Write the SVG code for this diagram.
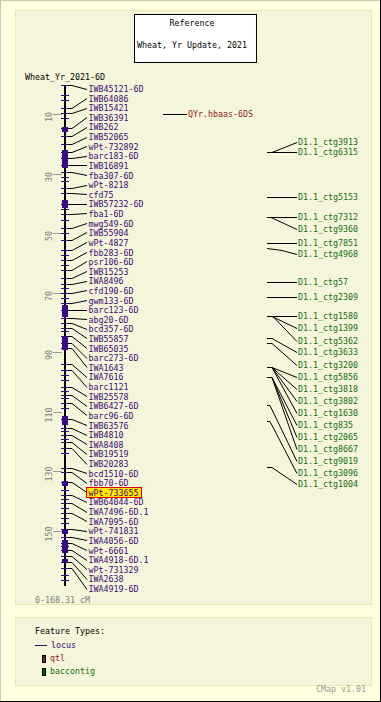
<svg xmlns="http://www.w3.org/2000/svg" width="381" height="702" viewBox="0 0 381 702">
<style>
text{font-family:"DejaVu Sans Mono","Liberation Mono",monospace;font-size:8.3px}
.loc{fill:#3d0a74}
.ctg{fill:#137013}
.qtl{fill:#8b2323}
.gray{fill:#808080}
.tk{stroke:#3a0a86;stroke-width:1;shape-rendering:crispEdges}
.blk{fill:#3a0a86;shape-rendering:crispEdges}
.cn line,.cn polyline{stroke:#000;stroke-width:1;fill:none}
.sc{stroke:#999;stroke-width:1;shape-rendering:crispEdges}
.panel{fill:#f5f5dc;stroke:#eee8aa;stroke-width:1}
</style>
<rect x="0" y="0" width="381" height="702" fill="#ffffe0"/>
<line x1="0" y1="0.5" x2="381" y2="0.5" stroke="#c8c8b0"/>
<line x1="0.5" y1="0" x2="0.5" y2="702" stroke="#c8c8b0"/>
<line x1="380.5" y1="0" x2="380.5" y2="702" stroke="#000"/>
<line x1="0" y1="701.5" x2="381" y2="701.5" stroke="#000"/>
<rect class="panel" x="15.5" y="10.5" width="356" height="594"/>
<g id="title">
<rect x="134.5" y="14.5" width="122" height="48" fill="#fff" stroke="#000"/>
<text x="192" y="26" text-anchor="middle" fill="#000">Reference</text>
<text x="192" y="48" text-anchor="middle" fill="#000">Wheat, Yr Update, 2021</text>
</g>
<g id="map">
<text x="25" y="80" fill="#000">Wheat_Yr_2021-6D</text>
<rect x="64" y="85" width="2" height="501" fill="#000"/>
<g id="scale">
<line class="sc" x1="53" y1="114.5" x2="62" y2="114.5"/><text class="gray" transform="translate(52,117) rotate(-90)" text-anchor="middle">10</text>
<line class="sc" x1="53" y1="174.5" x2="62" y2="174.5"/><text class="gray" transform="translate(52,177) rotate(-90)" text-anchor="middle">30</text>
<line class="sc" x1="53" y1="233.5" x2="62" y2="233.5"/><text class="gray" transform="translate(52,236) rotate(-90)" text-anchor="middle">50</text>
<line class="sc" x1="53" y1="293.5" x2="62" y2="293.5"/><text class="gray" transform="translate(52,296) rotate(-90)" text-anchor="middle">70</text>
<line class="sc" x1="53" y1="352.5" x2="62" y2="352.5"/><text class="gray" transform="translate(52,355) rotate(-90)" text-anchor="middle">90</text>
<line class="sc" x1="53" y1="412.5" x2="62" y2="412.5"/><text class="gray" transform="translate(52,415) rotate(-90)" text-anchor="middle">110</text>
<line class="sc" x1="53" y1="471.5" x2="62" y2="471.5"/><text class="gray" transform="translate(52,474) rotate(-90)" text-anchor="middle">130</text>
<line class="sc" x1="53" y1="531.5" x2="62" y2="531.5"/><text class="gray" transform="translate(52,534) rotate(-90)" text-anchor="middle">150</text>
<text class="gray" x="35" y="603">0-168.31 cM</text>
</g>
<g id="blocks">
<rect class="blk" x="62" y="127" width="6" height="5"/>
<rect class="blk" x="62" y="150" width="6" height="18"/>
<rect class="blk" x="62" y="200" width="6" height="8"/>
<rect class="blk" x="62" y="305" width="6" height="12"/>
<rect class="blk" x="62" y="337" width="6" height="13"/>
<rect class="blk" x="62" y="416" width="6" height="9"/>
<rect class="blk" x="62" y="481" width="6" height="5"/>
<rect class="blk" x="62" y="529" width="6" height="5"/>
<rect class="blk" x="62" y="540" width="6" height="13"/>
<rect class="blk" x="62" y="559" width="6" height="3"/>
</g>
<g id="extra-ticks">
<line class="tk" x1="61" y1="95.5" x2="69" y2="95.5"/>
<line class="tk" x1="61" y1="100.5" x2="69" y2="100.5"/>
<line class="tk" x1="61" y1="118.5" x2="69" y2="118.5"/>
<line class="tk" x1="61" y1="177.5" x2="69" y2="177.5"/>
<line class="tk" x1="61" y1="181.5" x2="69" y2="181.5"/>
<line class="tk" x1="61" y1="209.5" x2="69" y2="209.5"/>
<line class="tk" x1="61" y1="220.5" x2="69" y2="220.5"/>
<line class="tk" x1="61" y1="233.5" x2="69" y2="233.5"/>
<line class="tk" x1="61" y1="255.5" x2="69" y2="255.5"/>
<line class="tk" x1="61" y1="265.5" x2="69" y2="265.5"/>
<line class="tk" x1="61" y1="288.5" x2="69" y2="288.5"/>
<line class="tk" x1="61" y1="298.5" x2="69" y2="298.5"/>
<line class="tk" x1="61" y1="331.5" x2="69" y2="331.5"/>
<line class="tk" x1="61" y1="375.5" x2="69" y2="375.5"/>
<line class="tk" x1="61" y1="380.5" x2="69" y2="380.5"/>
<line class="tk" x1="61" y1="391.5" x2="69" y2="391.5"/>
<line class="tk" x1="61" y1="398.5" x2="69" y2="398.5"/>
<line class="tk" x1="61" y1="408.5" x2="69" y2="408.5"/>
<line class="tk" x1="61" y1="431.5" x2="69" y2="431.5"/>
<line class="tk" x1="61" y1="439.5" x2="69" y2="439.5"/>
<line class="tk" x1="61" y1="453.5" x2="69" y2="453.5"/>
<line class="tk" x1="61" y1="490.5" x2="69" y2="490.5"/>
<line class="tk" x1="61" y1="499.5" x2="69" y2="499.5"/>
<line class="tk" x1="61" y1="508.5" x2="69" y2="508.5"/>
<line class="tk" x1="61" y1="518.5" x2="69" y2="518.5"/>
<line class="tk" x1="61" y1="523.5" x2="69" y2="523.5"/>
<line class="tk" x1="61" y1="546.5" x2="69" y2="546.5"/>
<line class="tk" x1="61" y1="575.5" x2="69" y2="575.5"/>
<line class="tk" x1="61" y1="580.5" x2="69" y2="580.5"/>
</g>
</g>
<g id="m1"><line class="tk" x1="61" y1="85.5" x2="69" y2="85.5"/><text class="loc" x="88.5" y="92">IWB45121-6D</text></g>
<g id="m2"><line class="tk" x1="61" y1="108.5" x2="69" y2="108.5"/><text class="loc" x="88.5" y="102">IWB64086</text></g>
<g id="m3"><line class="tk" x1="61" y1="113.5" x2="69" y2="113.5"/><text class="loc" x="88.5" y="111">IWB15421</text></g>
<g id="m4"><line class="tk" x1="61" y1="128.5" x2="69" y2="128.5"/><text class="loc" x="88.5" y="121">IWB36391</text></g>
<g id="m5"><line class="tk" x1="61" y1="136.5" x2="69" y2="136.5"/><text class="loc" x="88.5" y="130">IWB262</text></g>
<g id="m6"><line class="tk" x1="61" y1="144.5" x2="69" y2="144.5"/><text class="loc" x="88.5" y="140">IWB52065</text></g>
<g id="m7"><line class="tk" x1="61" y1="152.5" x2="69" y2="152.5"/><text class="loc" x="88.5" y="150">wPt-732892</text></g>
<g id="m8"><line class="tk" x1="61" y1="158.5" x2="69" y2="158.5"/><text class="loc" x="88.5" y="159">barc183-6D</text></g>
<g id="m9"><line class="tk" x1="61" y1="165.5" x2="69" y2="165.5"/><text class="loc" x="88.5" y="169">IWB16891</text></g>
<g id="m10"><line class="tk" x1="61" y1="172.5" x2="69" y2="172.5"/><text class="loc" x="88.5" y="179">fba307-6D</text></g>
<g id="m11"><line class="tk" x1="61" y1="188.5" x2="69" y2="188.5"/><text class="loc" x="88.5" y="188">wPt-8218</text></g>
<g id="m12"><line class="tk" x1="61" y1="193.5" x2="69" y2="193.5"/><text class="loc" x="88.5" y="198">cfd75</text></g>
<g id="m13"><line class="tk" x1="61" y1="204.5" x2="69" y2="204.5"/><text class="loc" x="88.5" y="207">IWB57232-6D</text></g>
<g id="m14"><line class="tk" x1="61" y1="214.5" x2="69" y2="214.5"/><text class="loc" x="88.5" y="217">fba1-6D</text></g>
<g id="m15"><line class="tk" x1="61" y1="228.5" x2="69" y2="228.5"/><text class="loc" x="88.5" y="227">mwg549-6D</text></g>
<g id="m16"><line class="tk" x1="61" y1="240.5" x2="69" y2="240.5"/><text class="loc" x="88.5" y="236">IWB55904</text></g>
<g id="m17"><line class="tk" x1="61" y1="250.5" x2="69" y2="250.5"/><text class="loc" x="88.5" y="246">wPt-4827</text></g>
<g id="m18"><line class="tk" x1="61" y1="260.5" x2="69" y2="260.5"/><text class="loc" x="88.5" y="256">fbb283-6D</text></g>
<g id="m19"><line class="tk" x1="61" y1="270.5" x2="69" y2="270.5"/><text class="loc" x="88.5" y="265">psr106-6D</text></g>
<g id="m20"><line class="tk" x1="61" y1="278.5" x2="69" y2="278.5"/><text class="loc" x="88.5" y="275">IWB15253</text></g>
<g id="m21"><line class="tk" x1="61" y1="284.5" x2="69" y2="284.5"/><text class="loc" x="88.5" y="284">IWA8496</text></g>
<g id="m22"><line class="tk" x1="61" y1="293.5" x2="69" y2="293.5"/><text class="loc" x="88.5" y="294">cfd190-6D</text></g>
<g id="m23"><line class="tk" x1="61" y1="303.5" x2="69" y2="303.5"/><text class="loc" x="88.5" y="304">gwm133-6D</text></g>
<g id="m24"><line class="tk" x1="61" y1="310.5" x2="69" y2="310.5"/><text class="loc" x="88.5" y="313">barc123-6D</text></g>
<g id="m25"><line class="tk" x1="61" y1="318.5" x2="69" y2="318.5"/><text class="loc" x="88.5" y="323">abg20-6D</text></g>
<g id="m26"><line class="tk" x1="61" y1="323.5" x2="69" y2="323.5"/><text class="loc" x="88.5" y="332">bcd357-6D</text></g>
<g id="m27"><line class="tk" x1="61" y1="328.5" x2="69" y2="328.5"/><text class="loc" x="88.5" y="342">IWB55857</text></g>
<g id="m28"><line class="tk" x1="61" y1="336.5" x2="69" y2="336.5"/><text class="loc" x="88.5" y="352">IWB65035</text></g>
<g id="m29"><line class="tk" x1="61" y1="343.5" x2="69" y2="343.5"/><text class="loc" x="88.5" y="361">barc273-6D</text></g>
<g id="m30"><line class="tk" x1="61" y1="348.5" x2="69" y2="348.5"/><text class="loc" x="88.5" y="371">IWA1643</text></g>
<g id="m31"><line class="tk" x1="61" y1="364.5" x2="69" y2="364.5"/><text class="loc" x="88.5" y="380">IWA7616</text></g>
<g id="m32"><line class="tk" x1="61" y1="370.5" x2="69" y2="370.5"/><text class="loc" x="88.5" y="390">barc1121</text></g>
<g id="m33"><line class="tk" x1="61" y1="387.5" x2="69" y2="387.5"/><text class="loc" x="88.5" y="400">IWB25578</text></g>
<g id="m34"><line class="tk" x1="61" y1="395.5" x2="69" y2="395.5"/><text class="loc" x="88.5" y="409">IWB6427-6D</text></g>
<g id="m35"><line class="tk" x1="61" y1="403.5" x2="69" y2="403.5"/><text class="loc" x="88.5" y="419">barc96-6D</text></g>
<g id="m36"><line class="tk" x1="61" y1="419.5" x2="69" y2="419.5"/><text class="loc" x="88.5" y="429">IWB63576</text></g>
<g id="m37"><line class="tk" x1="61" y1="428.5" x2="69" y2="428.5"/><text class="loc" x="88.5" y="438">IWB4810</text></g>
<g id="m38"><line class="tk" x1="61" y1="435.5" x2="69" y2="435.5"/><text class="loc" x="88.5" y="448">IWA8408</text></g>
<g id="m39"><line class="tk" x1="61" y1="442.5" x2="69" y2="442.5"/><text class="loc" x="88.5" y="457">IWB19519</text></g>
<g id="m40"><line class="tk" x1="61" y1="448.5" x2="69" y2="448.5"/><text class="loc" x="88.5" y="467">IWB20283</text></g>
<g id="m41"><line class="tk" x1="61" y1="468.5" x2="69" y2="468.5"/><text class="loc" x="88.5" y="477">bcd1510-6D</text></g>
<g id="m42"><line class="tk" x1="61" y1="472.5" x2="69" y2="472.5"/><text class="loc" x="88.5" y="486">fbb70-6D</text></g>
<g id="m43"><line class="tk" x1="61" y1="482.5" x2="69" y2="482.5"/><rect x="86.5" y="487.5" width="55" height="10" fill="#ffe600" stroke="#e00000"/><text class="loc" x="88.5" y="496">wPt-733655</text></g>
<g id="m44"><line class="tk" x1="61" y1="495.5" x2="69" y2="495.5"/><text class="loc" x="88.5" y="505">IWB64044-6D</text></g>
<g id="m45"><line class="tk" x1="61" y1="503.5" x2="69" y2="503.5"/><text class="loc" x="88.5" y="515">IWA7496-6D.1</text></g>
<g id="m46"><line class="tk" x1="61" y1="513.5" x2="69" y2="513.5"/><text class="loc" x="88.5" y="525">IWA7095-6D</text></g>
<g id="m47"><line class="tk" x1="61" y1="529.5" x2="69" y2="529.5"/><text class="loc" x="88.5" y="534">wPt-741831</text></g>
<g id="m48"><line class="tk" x1="61" y1="537.5" x2="69" y2="537.5"/><text class="loc" x="88.5" y="544">IWA4056-6D</text></g>
<g id="m49"><line class="tk" x1="61" y1="543.5" x2="69" y2="543.5"/><text class="loc" x="88.5" y="554">wPt-6661</text></g>
<g id="m50"><line class="tk" x1="61" y1="550.5" x2="69" y2="550.5"/><text class="loc" x="88.5" y="563">IWA4918-6D.1</text></g>
<g id="m51"><line class="tk" x1="61" y1="556.5" x2="69" y2="556.5"/><text class="loc" x="88.5" y="573">wPt-731329</text></g>
<g id="m52"><line class="tk" x1="61" y1="562.5" x2="69" y2="562.5"/><text class="loc" x="88.5" y="582">IWA2638</text></g>
<g id="m53"><line class="tk" x1="61" y1="568.5" x2="69" y2="568.5"/><text class="loc" x="88.5" y="592">IWA4919-6D</text></g>
<g id="qtl1"><text class="qtl" x="188" y="117">QYr.hbaas-6DS</text></g>
<g id="c3913"><text class="ctg" x="298" y="145">D1.1_ctg3913</text></g>
<g id="c6315"><text class="ctg" x="298" y="155">D1.1_ctg6315</text></g>
<g id="c5153"><text class="ctg" x="298" y="200">D1.1_ctg5153</text></g>
<g id="c7312"><text class="ctg" x="298" y="220">D1.1_ctg7312</text></g>
<g id="c9360"><text class="ctg" x="298" y="232">D1.1_ctg9360</text></g>
<g id="c7851"><text class="ctg" x="298" y="246">D1.1_ctg7851</text></g>
<g id="c4968"><text class="ctg" x="298" y="257">D1.1_ctg4968</text></g>
<g id="c57"><text class="ctg" x="298" y="285">D1.1_ctg57</text></g>
<g id="c2309"><text class="ctg" x="298" y="300">D1.1_ctg2309</text></g>
<g id="c1580"><text class="ctg" x="298" y="319">D1.1_ctg1580</text></g>
<g id="c1399"><text class="ctg" x="298" y="331">D1.1_ctg1399</text></g>
<g id="c5362"><text class="ctg" x="298" y="344">D1.1_ctg5362</text></g>
<g id="c3633"><text class="ctg" x="298" y="355">D1.1_ctg3633</text></g>
<g id="c3200"><text class="ctg" x="298" y="368">D1.1_ctg3200</text></g>
<g id="c5856"><text class="ctg" x="298" y="380">D1.1_ctg5856</text></g>
<g id="c3818"><text class="ctg" x="298" y="392">D1.1_ctg3818</text></g>
<g id="c3802"><text class="ctg" x="298" y="404">D1.1_ctg3802</text></g>
<g id="c1630"><text class="ctg" x="298" y="416">D1.1_ctg1630</text></g>
<g id="c835"><text class="ctg" x="298" y="428">D1.1_ctg835</text></g>
<g id="c2065"><text class="ctg" x="298" y="440">D1.1_ctg2065</text></g>
<g id="c8667"><text class="ctg" x="298" y="452">D1.1_ctg8667</text></g>
<g id="c9019"><text class="ctg" x="298" y="464">D1.1_ctg9019</text></g>
<g id="c3096"><text class="ctg" x="298" y="476">D1.1_ctg3096</text></g>
<g id="c1004"><text class="ctg" x="298" y="487">D1.1_ctg1004</text></g>
<g id="connectors" class="cn">
<polyline points="68,85.5 72,85.5 87,89.5"/>
<polyline points="68,108.5 72,108.5 87,98.5"/>
<polyline points="68,113.5 72,113.5 87,108.5"/>
<polyline points="68,128.5 72,128.5 87,117.5"/>
<polyline points="68,136.5 72,136.5 87,127.5"/>
<polyline points="68,144.5 72,144.5 87,137.5"/>
<polyline points="68,152.5 72,152.5 87,146.5"/>
<polyline points="68,158.5 72,158.5 87,156.5"/>
<polyline points="68,165.5 72,165.5 87,165.5"/>
<polyline points="68,172.5 72,172.5 87,175.5"/>
<polyline points="68,188.5 72,188.5 87,185.5"/>
<polyline points="68,193.5 72,193.5 87,194.5"/>
<polyline points="68,204.5 72,204.5 87,204.5"/>
<polyline points="68,214.5 72,214.5 87,213.5"/>
<polyline points="68,228.5 72,228.5 87,223.5"/>
<polyline points="68,240.5 72,240.5 87,232.5"/>
<polyline points="68,250.5 72,250.5 87,242.5"/>
<polyline points="68,260.5 72,260.5 87,252.5"/>
<polyline points="68,270.5 72,270.5 87,261.5"/>
<polyline points="68,278.5 72,278.5 87,271.5"/>
<polyline points="68,284.5 72,284.5 87,281.5"/>
<polyline points="68,293.5 72,293.5 87,290.5"/>
<polyline points="68,303.5 72,303.5 87,300.5"/>
<polyline points="68,310.5 72,310.5 87,310.5"/>
<polyline points="68,318.5 72,318.5 87,319.5"/>
<polyline points="68,323.5 72,323.5 87,329.5"/>
<polyline points="68,328.5 72,328.5 87,338.5"/>
<polyline points="68,336.5 72,336.5 87,348.5"/>
<polyline points="68,343.5 72,343.5 87,358.5"/>
<polyline points="68,348.5 72,348.5 87,367.5"/>
<polyline points="68,364.5 72,364.5 87,377.5"/>
<polyline points="68,370.5 72,370.5 87,387.5"/>
<polyline points="68,387.5 72,387.5 87,396.5"/>
<polyline points="68,395.5 72,395.5 87,406.5"/>
<polyline points="68,403.5 72,403.5 87,415.5"/>
<polyline points="68,419.5 72,419.5 87,425.5"/>
<polyline points="68,428.5 72,428.5 87,435.5"/>
<polyline points="68,435.5 72,435.5 87,444.5"/>
<polyline points="68,442.5 72,442.5 87,454.5"/>
<polyline points="68,448.5 72,448.5 87,464.5"/>
<polyline points="68,468.5 72,468.5 87,473.5"/>
<polyline points="68,472.5 72,472.5 87,483.5"/>
<polyline points="68,482.5 72,482.5 87,492.5"/>
<polyline points="68,495.5 72,495.5 87,502.5"/>
<polyline points="68,503.5 72,503.5 87,512.5"/>
<polyline points="68,513.5 72,513.5 87,521.5"/>
<polyline points="68,529.5 72,529.5 87,531.5"/>
<polyline points="68,537.5 72,537.5 87,540.5"/>
<polyline points="68,543.5 72,543.5 87,550.5"/>
<polyline points="68,550.5 72,550.5 87,560.5"/>
<polyline points="68,556.5 72,556.5 87,569.5"/>
<polyline points="68,562.5 72,562.5 87,579.5"/>
<polyline points="68,568.5 72,568.5 87,589.5"/>
<line x1="163" y1="114.5" x2="187" y2="114.5"/>
<polyline points="272,152.5 297,142.5"/>
<line x1="267" y1="152.5" x2="297" y2="152.5"/>
<line x1="267" y1="197.5" x2="297" y2="197.5"/>
<line x1="267" y1="217.5" x2="297" y2="217.5"/>
<polyline points="271,217.5 297,229.5"/>
<line x1="267" y1="243.5" x2="297" y2="243.5"/>
<polyline points="267,248.5 282,250.5 297,254.5"/>
<line x1="267" y1="282.5" x2="297" y2="282.5"/>
<line x1="267" y1="297.5" x2="297" y2="297.5"/>
<line x1="267" y1="316.5" x2="297" y2="316.5"/>
<polyline points="272,316.5 297,328.5"/>
<polyline points="273,316.5 297,341.5"/>
<polyline points="267,338.5 272,338.5 297,352.5"/>
<polyline points="267,343.5 272,343.5 297,365.5"/>
<polyline points="267,367.5 272,367.5 297,377.5"/>
<polyline points="272,367.5 297,389.5"/>
<polyline points="272,367.5 297,401.5"/>
<polyline points="272,367.5 297,413.5"/>
<polyline points="267,377.5 272,377.5 297,425.5"/>
<polyline points="272,377.5 297,437.5"/>
<polyline points="272,377.5 297,449.5"/>
<polyline points="267,405.5 270,405.5 297,461.5"/>
<polyline points="267,421.5 270,421.5 297,473.5"/>
<polyline points="267,467.5 272,467.5 297,484.5"/>
</g>
<g id="legend">
<rect class="panel" x="15.5" y="617.5" width="356" height="68"/>
<text x="35" y="634" fill="#000">Feature Types:</text>
<line x1="35" y1="645.5" x2="47" y2="645.5" stroke="#3d0a74"/>
<text class="loc" x="51" y="648">locus</text>
<rect x="42.5" y="655.5" width="3" height="7" fill="#6b2a2a" stroke="#000"/>
<text class="qtl" x="50" y="661">qtl</text>
<rect x="42.5" y="668.5" width="3" height="7" fill="#1a5c1a" stroke="#000"/>
<text class="ctg" x="50" y="674">baccontig</text>
<text x="316" y="692" fill="#999">CMap v1.01</text>
</g>
</svg>
